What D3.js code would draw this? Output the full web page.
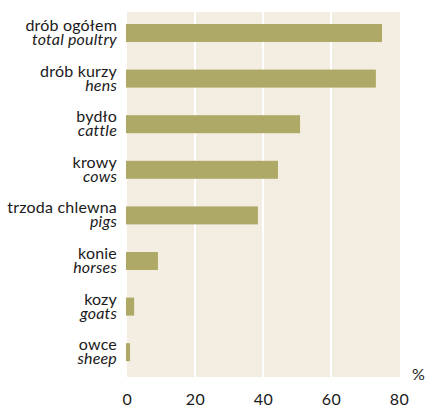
<!DOCTYPE html>
<html><head><meta charset="utf-8">
<script src="https://cdn.jsdelivr.net/npm/d3@7"></script>
<style>
html,body{margin:0;padding:0;background:#fff;}
svg text{font-family:Lato,"Liberation Sans",sans-serif;fill:#1a1a1a;}
</style></head>
<body><svg id="c" width="425" height="409"></svg>
<script>
const categoriesPL = ["drób ogółem","drób kurzy","bydło","krowy","trzoda chlewna","konie","kozy","owce"];
const categoriesEN = ["total poultry","hens","cattle","cows","pigs","horses","goats","sheep"];
const values = [75, 73.2, 50.9, 44.4, 38.5, 9.1, 2.1, 0.9];
const ticks = [0, 20, 40, 60, 80];
const unitLabel = "%";

const svg = d3.select("#c");
const x = d3.scaleLinear().domain([0, 80]).range([127, 399]);
const y = d3.scaleBand().domain(categoriesPL).range([10.2, 375]).paddingInner(0.605).paddingOuter(0.3025);

// background
svg.append("rect").attr("x", x(0)).attr("y", 12).attr("width", 400 - x(0)).attr("height", 365).attr("fill", "#f4eee2");

// gridlines
svg.append("g").selectAll("line").data(ticks.slice(1, 4)).join("line")
  .attr("x1", d => x(d)).attr("x2", d => x(d)).attr("y1", 12).attr("y2", 377)
  .attr("stroke", "#fff").attr("stroke-width", 2);

// bars
svg.append("g").selectAll("rect").data(values).join("rect")
  .attr("x", x(0) - 1).attr("y", (d, i) => y(categoriesPL[i]))
  .attr("width", d => x(d) - x(0) + 1).attr("height", y.bandwidth())
  .attr("fill", "#afa967");

// labels
const lab = svg.append("g");
categoriesPL.forEach((c, i) => {
  const cy = y(c) + y.bandwidth() / 2;
  lab.append("text").attr("x", 117).attr("y", cy - 2).attr("text-anchor", "end")
    .attr("font-size", 16).attr("letter-spacing", 0.2).text(c);
  lab.append("text").attr("x", 117).attr("y", cy + 12).attr("text-anchor", "end")
    .attr("font-size", 16).attr("letter-spacing", 0.2).attr("font-style", "italic").text(categoriesEN[i]);
});

// x axis tick labels
const axis = d3.axisBottom(x).tickValues(ticks).tickSize(0).tickPadding(0);
const ax = svg.append("g").attr("transform", "translate(0,394)").call(axis);
ax.select(".domain").remove();
ax.selectAll("text").attr("font-size", 16).attr("font-family", "Lato, sans-serif").attr("fill", "#1a1a1a").attr("dy", "0.71em").attr("letter-spacing", 0.5);

svg.append("text").attr("x", 412).attr("y", 380).attr("font-size", 16).text(unitLabel);
</script></body></html>
